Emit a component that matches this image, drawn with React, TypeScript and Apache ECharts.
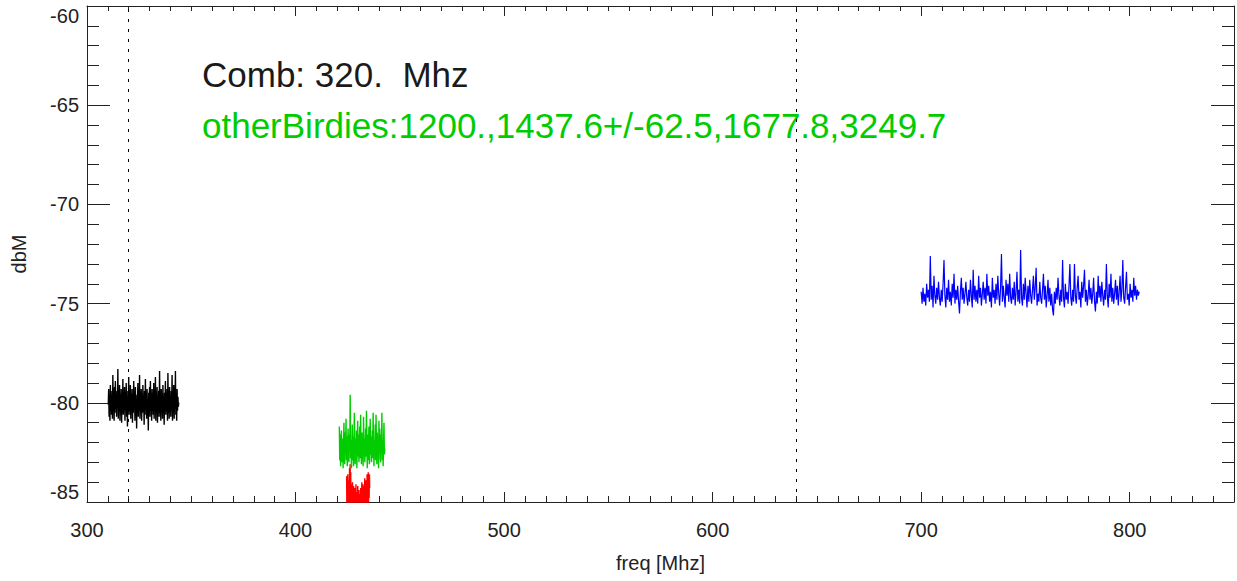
import React, { useEffect, useRef } from "react";
import * as echarts from "echarts";

// ---- data ----
const xTicks = [300, 400, 500, 600, 700, 800];
const yTicks = [-85, -80, -75, -70, -65, -60];
const combLines = [320, 640];

const titleText = "Comb: 320.  Mhz";
const birdiesText = "otherBirdies:1200.,1437.6+/-62.5,1677.8,3249.7";

// black trace: 310.2 .. 344.0 MHz
const blackStart = 310.2;
const blackStep = 0.2;
const blackValues = [
  -80.1, -79.3, -80.7, -79.6, -80.9, -79.1, -80.4, -79.8, -80.6, -79.4,
  -80.8, -78.6, -80.2, -79.7, -80.9, -79.2, -80.5, -78.9, -80.3, -79.6,
  -80.7, -79.4, -80.1, -78.3, -80.8, -79.5, -80.4, -79.1, -80.9, -79.7,
  -80.2, -79.3, -81.0, -79.8, -80.5, -78.8, -80.6, -79.6, -80.3, -79.2,
  -80.9, -79.5, -80.1, -79.0, -80.7, -79.7, -81.2, -79.4, -80.3, -78.7,
  -80.6, -79.8, -80.4, -79.1, -80.8, -79.6, -80.2, -79.3, -81.0, -79.7,
  -80.5, -78.9, -80.3, -79.5, -80.9, -79.2, -80.6, -79.8, -81.3, -79.6,
  -80.1, -79.0, -80.7, -79.4, -80.4, -78.6, -80.8, -79.7, -80.2, -79.3,
  -80.9, -79.6, -80.5, -79.1, -80.3, -79.8, -81.1, -79.4, -80.6, -78.8,
  -80.2, -79.7, -80.8, -79.3, -80.5, -79.9, -81.4, -79.5, -80.1, -79.2,
  -80.7, -78.9, -80.4, -79.6, -80.9, -79.3, -80.2, -79.8, -80.6, -79.0,
  -80.8, -79.5, -80.3, -78.7, -80.9, -79.6, -80.4, -79.2, -81.0, -79.7,
  -80.1, -79.4, -80.7, -78.4, -80.5, -79.8, -80.9, -79.3, -80.2, -79.6,
  -80.8, -79.1, -80.4, -79.7, -81.1, -79.5, -80.3, -78.9, -80.6, -79.8,
  -80.2, -79.3, -80.9, -78.5, -80.5, -79.6, -80.8, -79.2, -80.3, -79.9,
  -80.7, -79.4, -80.1, -78.6, -80.9, -79.7, -80.5, -79.1, -80.8, -79.5,
  -80.3, -78.4, -80.6, -79.8, -80.9, -79.3, -80.4, -79.7, -80.2, -80.0,
];

// red trace: 424.5 .. 435.6 MHz
const redStart = 424.5;
const redStep = 0.14;
const redValues = [
  -83.7, -85.8, -84.0, -86.2, -83.6, -85.1, -84.2, -86.5, -83.9, -85.4,
  -83.3, -85.9, -83.1, -84.8, -83.5, -86.0, -84.1, -85.5, -84.4, -86.3,
  -84.0, -85.2, -84.6, -86.7, -84.2, -85.7, -84.9, -86.1, -84.3, -87.0,
  -84.7, -85.6, -84.1, -86.4, -84.8, -85.3, -84.5, -86.9, -84.2, -85.8,
  -84.9, -86.2, -84.4, -85.5, -84.7, -87.1, -84.6, -85.9, -84.3, -86.5,
  -84.8, -85.4, -84.0, -86.6, -84.5, -85.8, -84.1, -86.0, -84.9, -85.3,
  -84.2, -86.3, -83.8, -85.7, -84.4, -86.1, -83.9, -85.2, -84.0, -85.9,
  -83.6, -85.4, -83.9, -86.0, -83.5, -85.1, -83.7, -84.8, -83.6, -84.3,
];

// green trace: 421.0 .. 442.8 MHz
const greenStart = 421.0;
const greenStep = 0.2;
const greenValues = [
  -81.2, -82.9, -81.6, -83.2, -82.1, -81.4, -83.0, -82.5, -81.8, -83.3,
  -82.2, -81.0, -82.8, -83.1, -81.5, -82.6, -80.8, -82.9, -81.7, -83.2,
  -82.0, -81.3, -82.7, -83.0, -81.6, -82.4, -79.6, -82.8, -81.9, -83.3,
  -82.3, -81.1, -82.9, -81.7, -83.2, -82.0, -80.5, -82.6, -83.1, -81.8,
  -82.5, -81.4, -83.3, -82.1, -80.9, -82.7, -81.6, -83.0, -82.3, -81.2,
  -82.8, -80.6, -82.4, -83.1, -81.5, -82.9, -81.9, -83.2, -80.7, -82.2,
  -81.8, -83.0, -82.5, -81.3, -82.7, -80.4, -82.1, -83.3, -81.6, -82.9,
  -82.0, -81.2, -83.1, -82.4, -80.8, -82.6, -81.7, -83.0, -82.2, -81.4,
  -82.8, -80.5, -82.3, -83.2, -81.9, -82.6, -81.1, -82.9, -80.6, -82.4,
  -83.1, -81.5, -82.7, -81.8, -83.3, -80.9, -82.2, -81.3, -82.8, -83.0,
  -81.6, -82.5, -80.5, -82.9, -81.9, -83.2, -82.1, -81.0, -82.6, -82.3,
];

// blue trace: 700.0 .. 804.6 MHz
const blueStart = 700.0;
const blueStep = 0.4375;
const blueValues = [
  -74.4, -75.0, -74.2, -74.9, -74.5, -75.1, -74.0, -74.7, -74.3, -74.9,
  -72.6, -74.8, -74.1, -75.2, -73.6, -74.6, -75.0, -74.2, -74.8, -73.9,
  -74.7, -75.1, -74.3, -74.9, -74.0, -72.8, -74.6, -75.2, -74.2, -74.8,
  -73.8, -74.9, -74.4, -75.1, -74.0, -74.7, -73.5, -75.0, -74.3, -74.8,
  -74.1, -74.9, -75.5, -74.4, -73.7, -74.8, -74.2, -75.0, -74.5, -73.9,
  -74.7, -75.1, -74.3, -74.9, -73.8, -74.6, -75.2, -73.3, -74.8, -74.1,
  -74.9, -74.3, -75.0, -73.6, -74.7, -74.2, -75.1, -74.5, -73.9, -74.8,
  -74.2, -75.0, -73.5, -74.6, -74.1, -74.9, -74.4, -75.2, -73.7, -74.7,
  -74.3, -75.0, -74.0, -74.8, -73.6, -74.5, -75.1, -74.2, -72.5, -74.9,
  -74.1, -74.7, -75.2, -73.8, -74.6, -74.0, -74.9, -73.5, -74.7, -75.0,
  -74.2, -74.8, -73.9, -75.1, -74.4, -73.4, -74.9, -74.3, -75.0, -72.3,
  -74.7, -75.1, -74.0, -74.8, -73.7, -74.5, -75.2, -74.1, -74.9, -73.8,
  -74.6, -75.0, -74.3, -73.6, -74.8, -74.2, -73.2, -75.1, -74.5, -74.9,
  -73.9, -74.7, -75.0, -74.3, -73.5, -74.8, -74.1, -75.2, -74.6, -73.8,
  -74.9, -74.2, -75.1, -74.5, -75.3, -75.6, -74.4, -75.0, -74.2, -74.8,
  -73.7, -74.6, -75.1, -74.3, -74.9, -72.8, -74.7, -75.2, -74.0, -74.8,
  -74.4, -75.0, -74.1, -73.0, -74.7, -75.1, -74.3, -74.9, -73.0, -74.6,
  -75.0, -74.2, -73.6, -74.8, -74.4, -75.2, -73.9, -74.7, -74.1, -73.3,
  -74.9, -74.3, -75.1, -74.6, -73.8, -74.8, -74.2, -75.0, -74.5, -73.7,
  -74.9, -75.4, -74.4, -75.0, -73.6, -74.7, -74.1, -74.9, -73.9, -74.6,
  -75.1, -74.3, -74.8, -73.0, -74.6, -75.2, -74.0, -74.7, -73.5, -74.9,
  -74.2, -75.0, -74.5, -73.8, -74.8, -74.1, -75.1, -74.4, -73.6, -74.9,
  -74.3, -72.8, -74.7, -75.0, -74.2, -73.4, -74.8, -74.5, -75.1, -74.0,
  -74.7, -74.3, -74.9, -73.7, -74.6, -74.1, -74.8, -74.3, -74.6, -74.4,
];

function pairs(start: number, step: number, values: number[]) {
  return values.map((v, i) => [+(start + i * step).toFixed(4), v]);
}

const FONT = "'Liberation Sans', Arial, Helvetica, sans-serif";
const AX = "#222";

export default function App() {
  const ref = useRef<HTMLDivElement>(null);
  useEffect(() => {
    if (!ref.current) return;
    const chart = echarts.init(ref.current, undefined, { renderer: "svg" });
    const xMin = xTicks[0];
    const xMax = 850;
    const yMin = yTicks[0];
    const yMax = yTicks[yTicks.length - 1];
    const xAxisBase = {
      type: "value" as const,
      min: xMin,
      max: xMax,
      interval: 100,
      splitLine: { show: false },
      axisLine: { show: true, onZero: false, lineStyle: { color: AX, width: 1 } },
      minorSplitLine: { show: false },
    };
    const yAxisBase = {
      type: "value" as const,
      min: yMin,
      max: yMax,
      interval: 5,
      splitLine: { show: false },
      axisLine: { show: true, onZero: false, lineStyle: { color: AX, width: 1 } },
      minorSplitLine: { show: false },
    };
    const lineSeries = (name: string, color: string, data: number[][], z: number, width: number) => ({
      name,
      type: "line" as const,
      data,
      showSymbol: false,
      symbol: "none",
      lineStyle: { color, width },
      itemStyle: { color },
      clip: true,
      z,
      silent: true,
    });
    chart.setOption({
      animation: false,
      backgroundColor: "#fff",
      textStyle: { fontFamily: FONT },
      grid: { left: 87, top: 6, width: 1147, height: 496, containLabel: false },
      xAxis: [
        {
          ...xAxisBase,
          position: "bottom",
          name: "freq [Mhz]",
          nameLocation: "middle",
          nameGap: 51,
          nameTextStyle: { fontSize: 20, color: AX, fontFamily: FONT },
          axisTick: { show: true, inside: true, length: 10, lineStyle: { color: AX } },
          minorTick: { show: true, splitNumber: 10, length: 6, lineStyle: { color: AX } },
          axisLabel: {
            show: true,
            fontSize: 20,
            color: AX,
            fontFamily: FONT,
            margin: 18,
            showMaxLabel: false,
          },
        },
        {
          ...xAxisBase,
          position: "top",
          axisTick: { show: true, inside: true, length: 10, lineStyle: { color: AX } },
          minorTick: { show: true, splitNumber: 10, length: 5, lineStyle: { color: AX } },
          axisLabel: { show: false },
        },
      ],
      yAxis: [
        {
          ...yAxisBase,
          position: "left",
          name: "dbM",
          nameLocation: "middle",
          nameGap: 58,
          nameTextStyle: { fontSize: 20, color: AX, fontFamily: FONT },
          axisTick: { show: true, inside: true, length: 23, lineStyle: { color: AX } },
          minorTick: { show: true, splitNumber: 5, length: 12, lineStyle: { color: AX } },
          axisLabel: {
            show: true,
            fontSize: 20,
            color: AX,
            fontFamily: FONT,
            margin: 8,
            verticalAlignMaxLabel: "top",
            verticalAlignMinLabel: "bottom",
          },
        },
        {
          ...yAxisBase,
          position: "right",
          axisTick: { show: true, inside: true, length: 23, lineStyle: { color: AX } },
          minorTick: { show: true, splitNumber: 5, length: 12, lineStyle: { color: AX } },
          axisLabel: { show: false },
        },
      ],
      series: [
        {
          ...lineSeries("black", "#000000", pairs(blackStart, blackStep, blackValues), 3, 1.4),
          markLine: {
            silent: true,
            symbol: ["none", "none"],
            label: { show: false },
            lineStyle: { color: "#000", width: 1, type: [3, 7] },
            data: combLines.map((v) => ({ xAxis: v })),
          },
        },
        lineSeries("red", "#ff0000", pairs(redStart, redStep, redValues), 3, 1.4),
        lineSeries("green", "#00cc00", pairs(greenStart, greenStep, greenValues), 4, 1.4),
        lineSeries("blue", "#0000ff", pairs(blueStart, blueStep, blueValues), 3, 1.2),
      ],
      graphic: [
        {
          type: "text",
          left: 202,
          top: 57,
          style: { text: titleText, fill: "#1a1a1a", fontSize: 35, fontFamily: FONT },
          silent: true,
        },
        {
          type: "text",
          left: 202,
          top: 108,
          style: { text: birdiesText, fill: "#00cc00", fontSize: 35, fontFamily: FONT },
          silent: true,
        },
      ],
    });
    return () => chart.dispose();
  }, []);
  return (
    <div
      ref={ref}
      style={{ position: "absolute", left: 0, top: 0, width: 1237, height: 581 }}
    />
  );
}
